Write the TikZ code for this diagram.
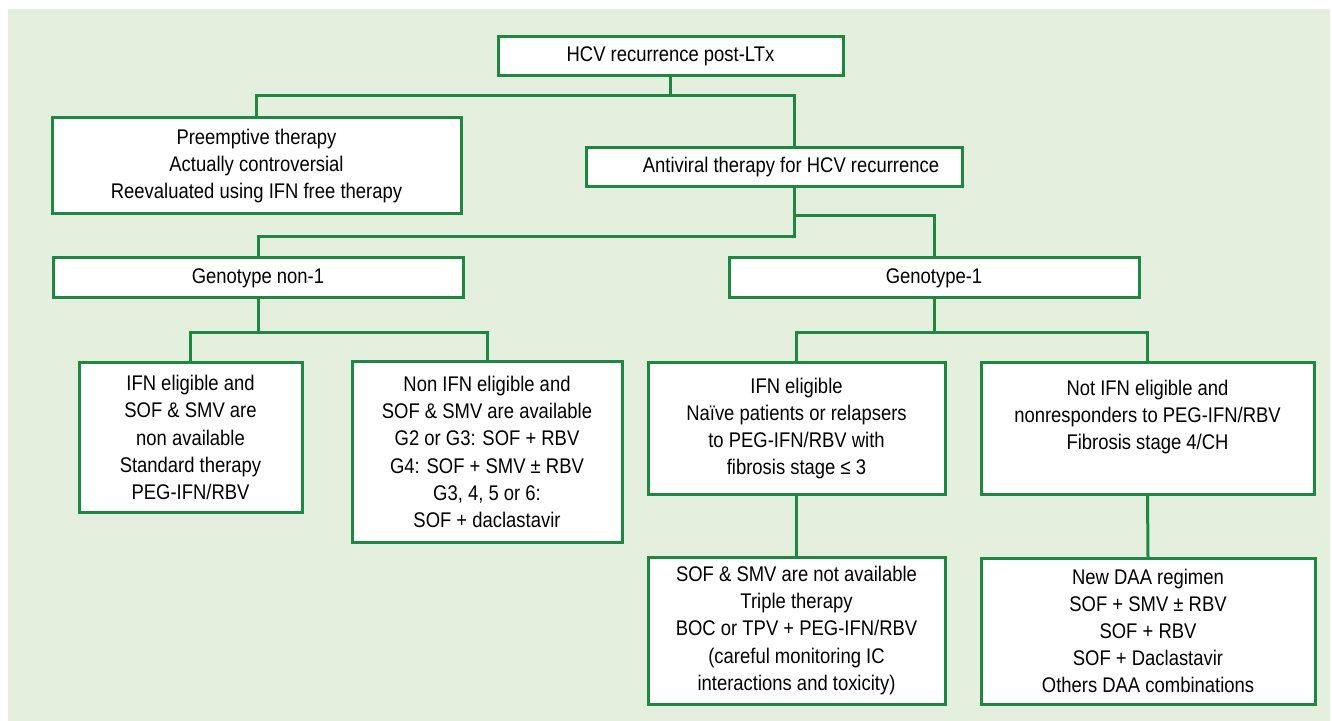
\documentclass[tikz,border=0pt]{standalone}
\usepackage{fontspec}
\setmainfont[FakeStretch=0.87]{Liberation Sans}
\usetikzlibrary{calc}
\definecolor{panelgreen}{HTML}{E4F0DD}
\definecolor{linegreen}{HTML}{1E8742}

\begin{document}
\begin{tikzpicture}[x=0.5pt, y=-0.5pt,
	box/.style={draw=linegreen, line width=1.5pt, fill=white, align=center,
		inner sep=0pt, outer sep=0pt, font=\fontsize{10.6}{13.6}\selectfont},
	link/.style={draw=linegreen, line width=1.5pt}]
		%%%%% START %%%%%
		
		\useasboundingbox (0, 0) rectangle (1332, 721);
		\fill[panelgreen] (8, 9) rectangle (1330, 721);
		
		% first level
		\node[box, minimum width=172.5pt, minimum height=19.5pt] (top) at (670.5, 56.5) {HCV recurrence post-LTx};
		\node[box, minimum width=204.5pt, minimum height=48pt] (pre) at (256.5, 166) {Preemptive therapy\\ Actually controversial\\ Reevaluated using IFN free therapy};
		\node[box, minimum width=188pt, minimum height=19.5pt] (anti) at (774, 167.5) {\hspace*{17pt}Antiviral therapy for HCV recurrence};
		
		% genotypes
		\node[box, minimum width=205pt, minimum height=20pt] (gnon) at (258, 278) {Genotype non-1};
		\node[box, minimum width=205pt, minimum height=20pt] (gone) at (934, 278) {Genotype-1};
		
		% genotype non-1
		\node[box, minimum width=111.5pt, minimum height=74.5pt] (ifnA) at (190.5, 437.5) {IFN eligible and\\ SOF \& SMV are\\ non available\\ Standard therapy\\ PEG-IFN/RBV};
		\node[box, minimum width=135pt, minimum height=90pt] (nonifn) at (487, 452) {Non IFN eligible and\\ SOF \& SMV are available\\ G2 or G3: SOF + RBV\\ G4: SOF + SMV ± RBV\\ G3, 4, 5 or 6:\\ SOF + daclastavir};
		
		% genotype 1
		\node[box, minimum width=148.5pt, minimum height=65.5pt] (ifnB) at (796.5, 428.5) {IFN eligible\\ Naïve patients or relapsers\\ to PEG-IFN/RBV with\\ fibrosis stage ≤ 3};
		\node[box, minimum width=166.5pt, minimum height=65.5pt] (notifn) at (1147.5, 428.5) {Not IFN eligible and\\ nonresponders to PEG-IFN/RBV\\ Fibrosis stage 4/CH\\ ~};
		\node[box, minimum width=148.5pt, minimum height=73.5pt] (sofsmv) at (796.5, 630.5) {SOF \& SMV are not available\\ Triple therapy\\ BOC or TPV + PEG-IFN/RBV\\ (careful monitoring IC\\ interactions and toxicity)};
		\node[box, minimum width=167pt, minimum height=73pt] (newdaa) at (1148, 631) {New DAA regimen\\ SOF + SMV ± RBV\\ SOF + RBV\\ SOF + Daclastavir\\ Others DAA combinations};
		
		% connectors
		\draw[link] (top.south) -- ++(0, 20) coordinate (j1);
		\draw[link] (pre.north) |- (j1) -| ([xshift=10pt]anti.north);
		
		\draw[link] ([xshift=10pt]anti.south) -- ++(0, 50) -| (gnon.north);
		\draw[link] ([xshift=10pt]anti.south) ++(0, 29) -| (gone.north);
		
		\draw[link] (gnon.south) -- ++(0, 35) coordinate (j2);
		\draw[link] (ifnA.north) |- (j2) -| (nonifn.north);
		
		\draw[link] (gone.south) -- ++(0, 35) coordinate (j3);
		\draw[link] (ifnB.north) |- (j3) -| (notifn.north);
		
		\draw[link] (ifnB.south) -- (sofsmv.north);
		\draw[link] (notifn.south) -- (newdaa.north);
		
		%%%%% END %%%%%
	\end{tikzpicture}
\end{document}
